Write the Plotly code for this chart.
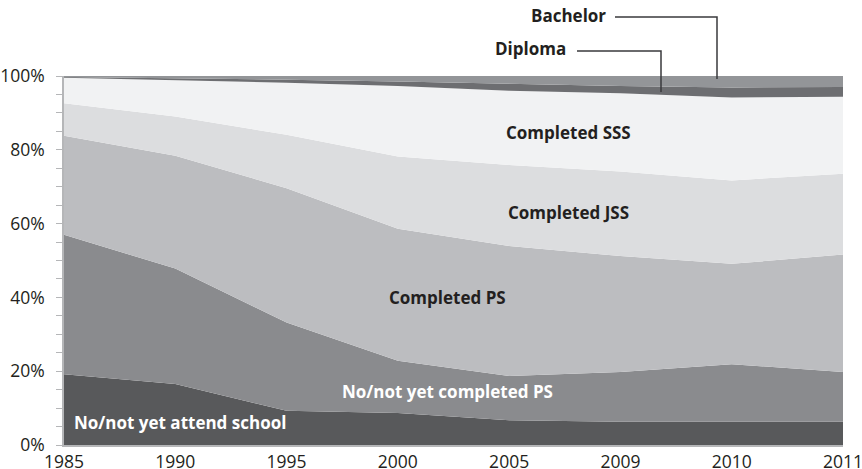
import plotly.graph_objects as go

# survey years (evenly spaced on the chart)
years = ["1985", "1990", "1995", "2000", "2005", "2009", "2010", "2011"]

# share of population by education level, %
no_school = [19.2, 16.5, 9.3, 8.7, 6.7, 6.3, 6.3, 6.3]
no_ps = [37.8, 31.3, 23.9, 14.1, 12.0, 13.5, 15.6, 13.5]
completed_ps = [26.8, 30.6, 36.4, 35.8, 35.2, 31.4, 27.2, 31.8]
completed_jss = [8.8, 10.6, 14.5, 19.6, 22.0, 22.9, 22.6, 21.9]
completed_sss = [6.9, 9.9, 14.1, 19.1, 20.1, 21.2, 22.5, 20.9]
diploma = [0.2, 0.5, 0.8, 1.2, 1.8, 2.0, 2.7, 2.6]
bachelor = [0.3, 0.6, 1.0, 1.5, 2.2, 2.7, 3.1, 3.0]

series = [
    ("No/not yet attend school", no_school, "#58595b"),
    ("No/not yet completed PS", no_ps, "#8a8b8e"),
    ("Completed PS", completed_ps, "#bcbdc0"),
    ("Completed JSS", completed_jss, "#dcdddf"),
    ("Completed SSS", completed_sss, "#f1f2f3"),
    ("Diploma", diploma, "#6d6e71"),
    ("Bachelor", bachelor, "#939598"),
]

FONT = "Open Sans"
DARK = "#231f20"

fig = go.Figure()
for name, vals, color in series:
    fig.add_trace(
        go.Scatter(
            x=years, y=vals,
            name=name,
            mode="lines",
            stackgroup="one",
            line=dict(width=0, color=color),
            fillcolor=color,
        )
    )

# page pixels -> paper coords (plot area spans x 64..843, y 76..445)
def px_x(px):
    return (px - 64) / 779


def px_y(py):
    return (445 - py) / 369


labels = [
    ("Completed SSS", 568, 84.7, DARK),
    ("Completed JSS", 568, 62.9, DARK),
    ("Completed PS", 447, 40.1, DARK),
    ("No/not yet completed PS", 447, 14.4, "white"),
    ("No/not yet attend school", 180, 6.0, "white"),
]
for text, x, y, color in labels:
    fig.add_annotation(
        x=px_x(x), xref="paper", y=y, yref="y",
        text=f"<b>{text}</b>", showarrow=False,
        xanchor="center", yanchor="middle",
        font=dict(family=FONT, size=17, color=color),
    )

# callouts above the chart
fig.add_annotation(
    x=px_x(608), xref="paper", y=px_y(15), yref="paper",
    text="<b>Bachelor</b>", showarrow=False,
    xanchor="right", yanchor="middle",
    font=dict(family=FONT, size=17, color=DARK),
)
fig.add_annotation(
    x=px_x(568), xref="paper", y=px_y(49), yref="paper",
    text="<b>Diploma</b>", showarrow=False,
    xanchor="right", yanchor="middle",
    font=dict(family=FONT, size=17, color=DARK),
)
leader = dict(color="#3a3a3c", width=1.5)
for pts in ([(615, 17), (717, 17), (717, 79)], [(577, 51), (661, 51), (661, 92)]):
    path = "M " + " L ".join(f"{px_x(a)},{px_y(b)}" for a, b in pts)
    fig.add_shape(type="path", path=path, xref="paper", yref="paper", line=leader)

fig.update_layout(
    width=862, height=469,
    margin=dict(l=64, r=19, t=76, b=24),
    plot_bgcolor="white",
    paper_bgcolor="white",
    showlegend=False,
    font=dict(family=FONT, size=17.5, color=DARK),
)
fig.update_xaxes(
    type="category",
    range=[0, len(years) - 1],
    automargin=False,
    showgrid=False,
    showline=True, linecolor="#b5b6b8", linewidth=1.5,
    ticks="", ticklabelstandoff=0,
)
fig.update_yaxes(
    range=[0, 100],
    dtick=20,
    ticksuffix="%",
    automargin=False,
    showgrid=False,
    zeroline=False,
    showline=True, linecolor="#b5b6b8", linewidth=1.5,
    ticks="outside", ticklen=6, tickcolor="#b5b6b8",
    ticklabelstandoff=8,
    minor=dict(dtick=5, ticks="outside", ticklen=6, tickcolor="#b5b6b8"),
)

# drop the page's default body margin so the figure fills the window exactly
fig.write_html(
    "out.html",
    config={"displayModeBar": False},
    post_script="document.body.style.margin='0';document.body.style.overflow='hidden';",
)
